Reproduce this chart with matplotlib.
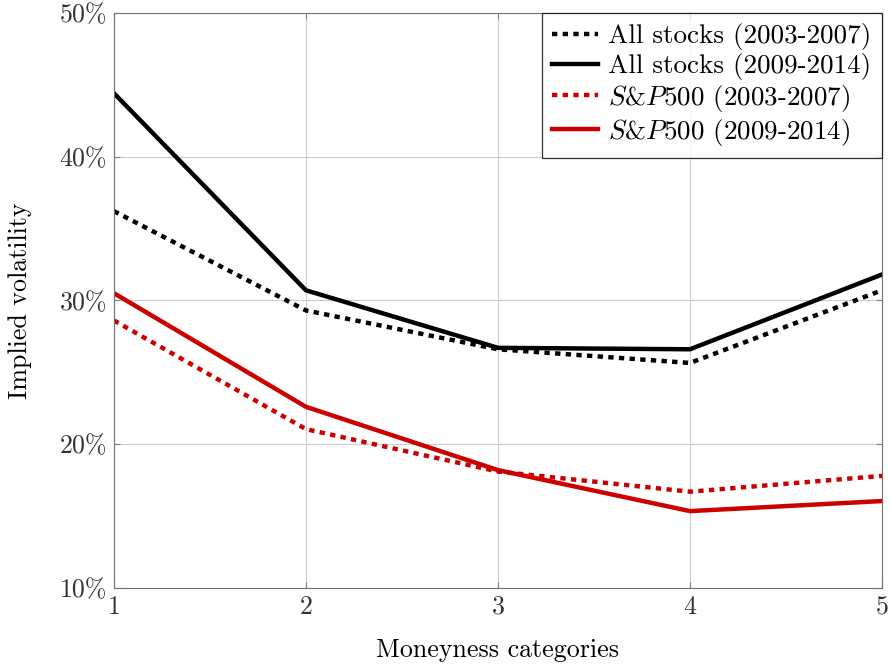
import numpy as np
import matplotlib.pyplot as plt
from matplotlib.ticker import FuncFormatter

plt.rcParams['font.family'] = 'serif'
plt.rcParams['font.serif'] = ['cmr10']
plt.rcParams['mathtext.fontset'] = 'cm'
plt.rcParams['axes.unicode_minus'] = False
plt.rcParams['axes.formatter.use_mathtext'] = True

# moneyness categories and implied volatility (%)
categories = [1, 2, 3, 4, 5]
all_0307 = [36.2, 29.3, 26.6, 25.65, 30.7]
all_0914 = [44.4, 30.7, 26.7, 26.6, 31.8]
sp_0307 = [28.6, 21.05, 18.1, 16.7, 17.8]
sp_0914 = [30.5, 22.6, 18.2, 15.35, 16.05]

red = '#cc0000'
dots = (0, (1.2, 1.2))
fs = 18.7

fig, ax = plt.subplots(figsize=(8.9, 6.66), dpi=100)
fig.subplots_adjust(left=0.128, right=0.991, top=0.981, bottom=0.117)

ax.plot(categories, all_0307, color='black', lw=3.2, ls=dots, label='All stocks (2003-2007)')
ax.plot(categories, all_0914, color='black', lw=3.2, label='All stocks (2009-2014)')
ax.plot(categories, sp_0307, color=red, lw=3.2, ls=dots, label=r'$S$&$P$500 (2003-2007)')
ax.plot(categories, sp_0914, color=red, lw=3.2, label=r'$S$&$P$500 (2009-2014)')

ax.set_xlim(1, 5)
ax.set_ylim(10, 50)
ax.set_xticks(categories)
ax.set_yticks([10, 20, 30, 40, 50])
ax.yaxis.set_major_formatter(FuncFormatter(lambda v, p: '%d%%' % v))
ax.grid(True, color='#cccccc', lw=0.8)
ax.set_axisbelow(True)
ax.tick_params(direction='in', length=4, color='#808080', labelsize=fs,
               labelcolor='#333333', right=True, top=True, pad=5)
for s in ax.spines.values():
    s.set_color('#707070')

ax.set_xlabel('Moneyness categories', fontsize=fs, labelpad=14)
ax.set_ylabel('Implied volatility', fontsize=fs, labelpad=20)

leg = ax.legend(loc='upper right', fontsize=19.5, frameon=True, fancybox=False,
                handlelength=1.7, borderaxespad=0.0, labelspacing=0.1,
                handletextpad=0.35, borderpad=0.4)
leg.get_frame().set_edgecolor('black')
leg.get_frame().set_linewidth(0.9)

fig.savefig('out.png', dpi=100)
